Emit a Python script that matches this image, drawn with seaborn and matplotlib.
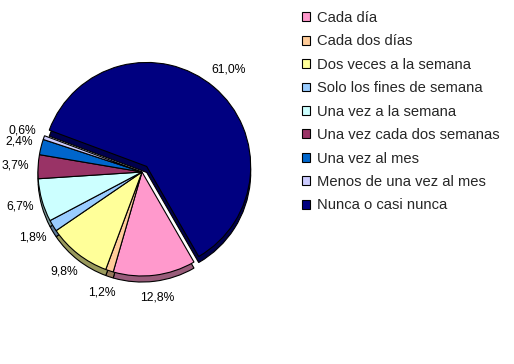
import matplotlib.pyplot as plt
import matplotlib.colors as mcolors
import seaborn as sns

# datos
categorias = [
    "Cada día",
    "Cada dos días",
    "Dos veces a la semana",
    "Solo los fines de semana",
    "Una vez a la semana",
    "Una vez cada dos semanas",
    "Una vez al mes",
    "Menos de una vez al mes",
    "Nunca o casi nunca",
]
porcentajes = [12.8, 1.2, 9.8, 1.8, 6.7, 3.7, 2.4, 0.6, 61.0]
colores = ["#FF99CC", "#FFCC99", "#FFFF99", "#99CCFF", "#CCFFFF",
           "#993366", "#0066CC", "#CCCCFF", "#000080"]
separacion = [0, 0, 0, 0, 0, 0, 0, 0, 0.07]

sns.set_style("white")
plt.rcParams["font.family"] = ["Liberation Sans", "DejaVu Sans"]

W, H = 514, 364
cx, cy, r = 142, 172, 104  # centro y radio en pixeles

fig = plt.figure(figsize=(W / 100, H / 100), dpi=100)
ax = fig.add_axes([0, 0, 1, 1])

# "profundidad" 3D: misma tarta, más oscura y desplazada hacia abajo
sombra = [tuple(c * 0.6 for c in mcolors.to_rgb(col)) for col in colores]
ax.pie(porcentajes, colors=sombra, explode=separacion, startangle=-60,
       counterclock=False, center=(0, -0.058), radius=1,
       wedgeprops=dict(edgecolor="black", linewidth=0.8))

wedges, _, pct = ax.pie(
    porcentajes, colors=colores, explode=separacion, startangle=-60,
    counterclock=False, center=(0, 0), radius=1,
    autopct=lambda p: f"{p:.1f}%".replace(".", ","), pctdistance=1.22,
    wedgeprops=dict(edgecolor="black", linewidth=0.8),
    textprops=dict(fontsize=8.7, color="black"))

ax.set_xlim(-cx / r, (W - cx) / r)
ax.set_ylim(-(H - cy) / r, cy / r)
ax.set_aspect("equal")
ax.axis("off")

ax.legend(wedges, categorias, loc="upper left",
          bbox_to_anchor=(302 / W, 1 - 11 / H), bbox_transform=fig.transFigure,
          frameon=False, fontsize=10.6, handlelength=0.55, handleheight=0.55,
          handletextpad=0.45, labelspacing=0.64, borderpad=0, borderaxespad=0)

fig.savefig("out.png", dpi=100, facecolor="white")
